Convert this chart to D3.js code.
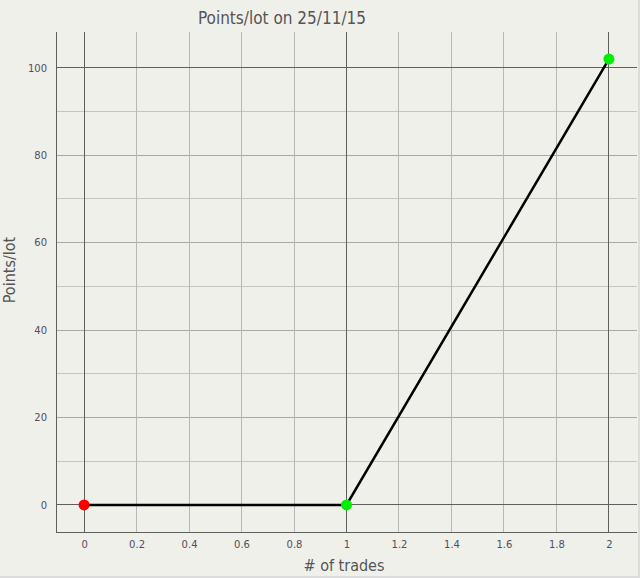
<!DOCTYPE html>
<html><head><meta charset="utf-8">
<script src="https://cdn.jsdelivr.net/npm/d3@7"></script>
<style>
html,body{margin:0;padding:0;background:#fff;}
svg{display:block;}
</style></head>
<body>
<script>
const trades = [0, 1, 2];
const points = [0, 0, 102];
const pointColors = ["#ff0000", "#00ee00", "#00ee00"];
const xTicks = [0, 0.2, 0.4, 0.6, 0.8, 1, 1.2, 1.4, 1.6, 1.8, 2];
const yTicks = [0, 20, 40, 60, 80, 100];
const yMinor = [10, 30, 50, 70, 90];
const xMajor = [0, 1, 2];
const yMajor = [0, 100];
const title = "Points/lot on 25/11/15";
const xTitle = "# of trades";
const yTitle = "Points/lot";

const W = 640, H = 578;
const svg = d3.select("body").append("svg").attr("width", W).attr("height", H);
svg.append("rect").attr("x",0).attr("y",0).attr("width",W).attr("height",H).attr("fill","#dcdcdc");
svg.append("rect").attr("x",0).attr("y",0).attr("width",638).attr("height",576).attr("fill","#f0f0eb");

const L = 56, R = 637, T = 32, B = 532;
const x = d3.scaleLinear().domain([-0.107, 2.107]).range([L, R]);
const y = d3.scaleLinear().domain([-6.2, 108.2]).range([B, T]);

const g = svg.append("g");
g.selectAll(".ym").data(yMinor).join("line")
  .attr("x1", L).attr("x2", R).attr("y1", d=>y(d)).attr("y2", d=>y(d))
  .attr("stroke", "#c4c4c0").attr("stroke-width", 1).attr("shape-rendering","crispEdges");
g.selectAll(".yg").data(yTicks.filter(d=>!yMajor.includes(d))).join("line")
  .attr("x1", L).attr("x2", R).attr("y1", d=>y(d)).attr("y2", d=>y(d))
  .attr("stroke", "#a8a8a4").attr("stroke-width", 1).attr("shape-rendering","crispEdges");
g.selectAll(".xg").data(xTicks.filter(d=>!xMajor.includes(d))).join("line")
  .attr("y1", T).attr("y2", B).attr("x1", d=>x(d)).attr("x2", d=>x(d))
  .attr("stroke", "#b8b8b4").attr("stroke-width", 1).attr("shape-rendering","crispEdges");
g.selectAll(".ymaj").data(yMajor).join("line")
  .attr("x1", L).attr("x2", R).attr("y1", d=>y(d)).attr("y2", d=>y(d))
  .attr("stroke", "#5f5f5f").attr("stroke-width", 1).attr("shape-rendering","crispEdges");
g.selectAll(".xmaj").data(xMajor).join("line")
  .attr("y1", T).attr("y2", B).attr("x1", d=>x(d)).attr("x2", d=>x(d))
  .attr("stroke", "#5f5f5f").attr("stroke-width", 1).attr("shape-rendering","crispEdges");

const xAxis = d3.axisBottom(x).tickValues(xTicks).tickSize(0).tickPadding(9).tickFormat(d3.format("~g"));
const yAxis = d3.axisLeft(y).tickValues(yTicks).tickSize(0).tickPadding(9).tickFormat(d3.format("~g"));
const gx = svg.append("g").attr("transform", `translate(0,${B})`).call(xAxis);
const gy = svg.append("g").attr("transform", `translate(${L},0)`).call(yAxis);
[gx, gy].forEach(a => {
  a.select(".domain").remove();
  a.selectAll("text").attr("fill", "#4f4f5f").style("font-family", "'DejaVu Sans', Verdana, sans-serif").style("font-size", "10px");
});
svg.append("line").attr("x1", L).attr("x2", L).attr("y1", T).attr("y2", B).attr("stroke", "#5f5f5f").attr("shape-rendering","crispEdges");
svg.append("line").attr("x1", L).attr("x2", R).attr("y1", B).attr("y2", B).attr("stroke", "#5f5f5f").attr("shape-rendering","crispEdges");

const data = trades.map((t,i)=>({t, v: points[i], c: pointColors[i]}));
svg.append("path").datum(data)
  .attr("d", d3.line().x(d=>x(d.t)).y(d=>y(d.v)))
  .attr("fill","none").attr("stroke","#000").attr("stroke-width",2.5);
svg.selectAll(".pt").data(data).join("circle")
  .attr("cx", d=>x(d.t)).attr("cy", d=>y(d.v)).attr("r", 5.5)
  .attr("fill", d=>d.c);

const tf = "'DejaVu Sans Condensed', 'Liberation Sans Narrow', sans-serif";
svg.append("text").attr("x", 282).attr("y", 24).attr("text-anchor","middle")
  .style("font-family", tf).style("font-size","17px").attr("fill","#555").text(title);
svg.append("text").attr("x", 344).attr("y", 571).attr("text-anchor","middle")
  .style("font-family", tf).style("font-size","16px").attr("fill","#555").text(xTitle);
svg.append("text").attr("transform","translate(15,270) rotate(-90)").attr("text-anchor","middle")
  .style("font-family", tf).style("font-size","16px").attr("fill","#555").text(yTitle);
</script>
</body></html>
